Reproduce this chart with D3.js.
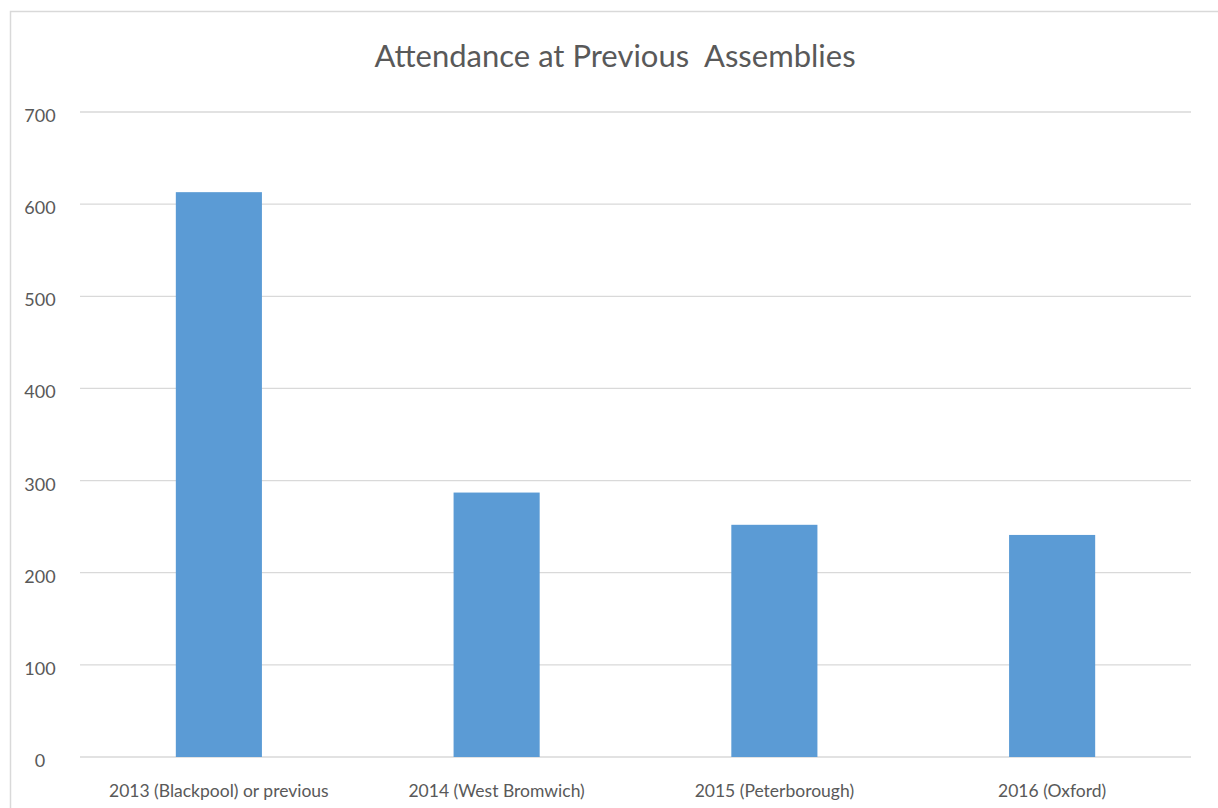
<!DOCTYPE html>
<html><head><meta charset="utf-8">
<script src="https://cdn.jsdelivr.net/npm/d3@7"></script>
<style>body{margin:0;background:#fff;} svg{display:block;}</style>
</head><body>
<svg id="c" width="1218" height="808"></svg>
<script>
const title = "Attendance at Previous  Assemblies";
const categories = ["2013 (Blackpool) or previous", "2014 (West Bromwich)", "2015 (Peterborough)", "2016 (Oxford)"];
const attendance = [613, 287, 252, 241];
const yTicks = [0, 100, 200, 300, 400, 500, 600, 700];

const svg = d3.select("#c");
const font = "Lato, 'Open Sans', sans-serif";
const textColor = "#595959";

svg.append("rect").attr("x", 10.5).attr("y", 11.5).attr("width", 1230).attr("height", 820)
  .attr("fill", "#fff").attr("stroke", "#d9d9d9").attr("stroke-width", 1.5);

const m = {left: 80, right: 1191, top: 112, bottom: 757};
const x = d3.scaleBand().domain(categories).range([m.left, m.right]).paddingInner(0.69).paddingOuter(0.345);
const y = d3.scaleLinear().domain([0, 700]).range([m.bottom, m.top]);

// gridlines
svg.append("g").selectAll("line").data(yTicks).join("line")
  .attr("x1", m.left).attr("x2", m.right)
  .attr("y1", d => y(d)).attr("y2", d => y(d))
  .attr("stroke", "#d9d9d9").attr("stroke-width", 1.3);

// y labels
svg.append("g").selectAll("text").data(yTicks).join("text")
  .attr("x", 40).attr("y", d => y(d) + 10)
  .attr("text-anchor", "middle").attr("font-family", font).attr("font-size", 18)
  .attr("fill", textColor).text(d => d);

// bars
svg.append("g").selectAll("rect").data(categories).join("rect")
  .attr("x", d => x(d)).attr("width", x.bandwidth())
  .attr("y", (d, i) => y(attendance[i])).attr("height", (d, i) => y(0) - y(attendance[i]))
  .attr("fill", "#5b9bd5");

// x labels
svg.append("g").selectAll("text").data(categories).join("text")
  .attr("x", d => x(d) + x.bandwidth() / 2).attr("y", 797)
  .attr("text-anchor", "middle").attr("font-family", font).attr("font-size", 17.5)
  .attr("fill", textColor).text(d => d);

// title
svg.append("text").attr("x", 615).attr("y", 67).attr("text-anchor", "middle")
  .attr("font-family", font).attr("font-size", 31).attr("fill", textColor)
  .style("white-space", "pre").attr("xml:space", "preserve").text(title);
</script>
</body></html>
